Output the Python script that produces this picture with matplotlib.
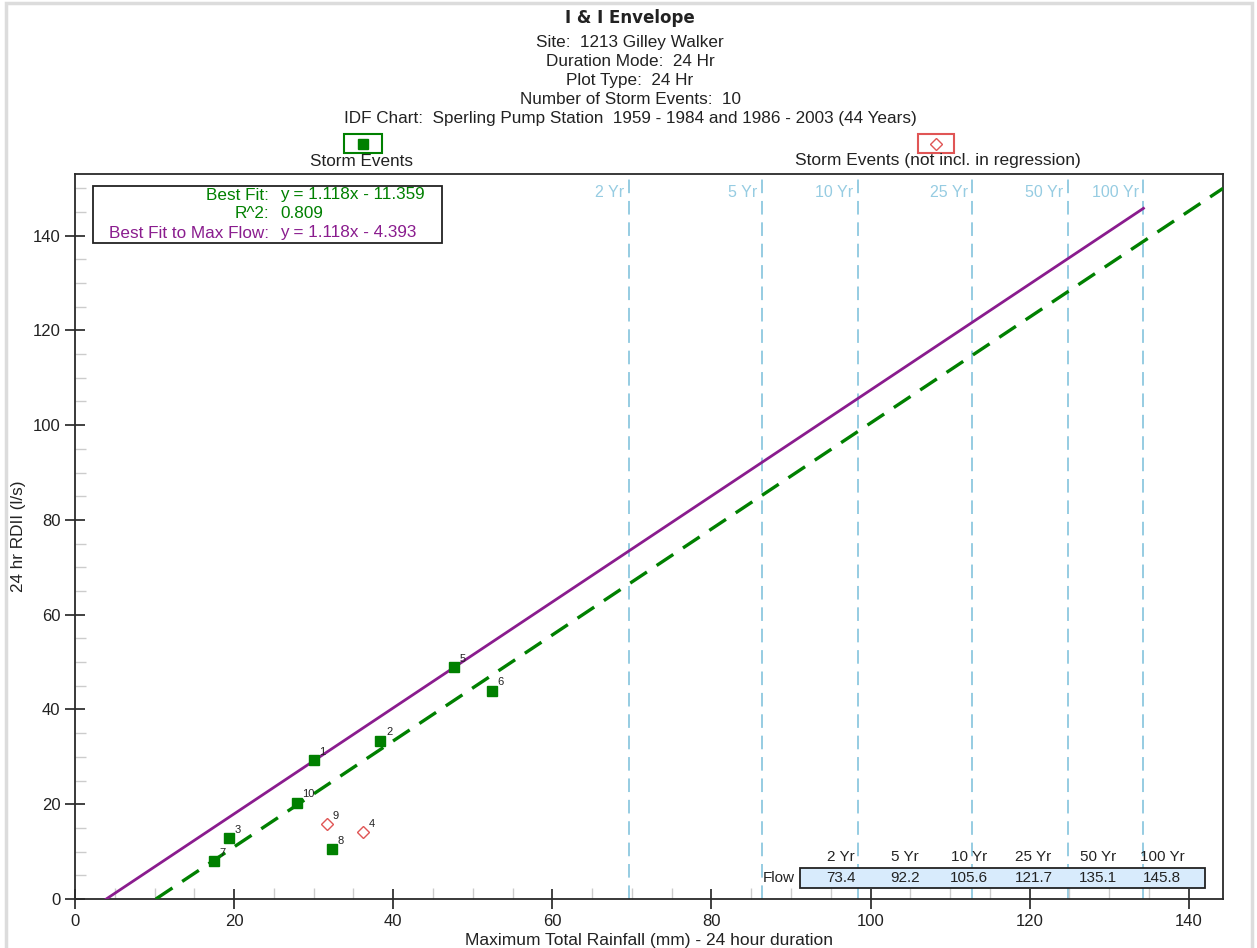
import matplotlib
matplotlib.use("Agg")
import matplotlib.pyplot as plt
from matplotlib.patches import Rectangle
from matplotlib.lines import Line2D
from matplotlib.ticker import MultipleLocator

plt.rcParams["font.family"] = ["Liberation Sans", "DejaVu Sans"]

# storm events included in regression
EVENT_ID = ["1", "2", "3", "5", "6", "7", "8", "10"]
EVENT_RAIN = [30.0, 38.4, 19.3, 47.6, 52.4, 17.5, 32.3, 27.9]
EVENT_RDII = [29.3, 33.4, 12.8, 48.9, 44.0, 8.0, 10.5, 20.3]

# storm events not included in regression
EXCL_ID = ["4", "9"]
EXCL_RAIN = [36.2, 31.7]
EXCL_RDII = [14.1, 15.8]

# regression lines
SLOPE = 1.118
INTERCEPT_FIT = -11.359
INTERCEPT_MAX = -4.393
R2 = 0.809

# IDF return periods
IDF_LABELS = ["2 Yr", "5 Yr", "10 Yr", "25 Yr", "50 Yr", "100 Yr"]
IDF_RAIN = [69.6, 86.4, 98.4, 112.8, 124.8, 134.3]
IDF_FLOW = [73.4, 92.2, 105.6, 121.7, 135.1, 145.8]

GREEN = "#008000"
PURPLE = "#8A1C8E"
RED = "#E05555"
IDF_BLUE = "#96CCE2"
TXT = "#222222"

XMAX, YMAX = 144.3, 153.0
W, H = 1257, 948

fig = plt.figure(figsize=(W / 100, H / 100), dpi=100)
ax = fig.add_axes([75 / W, 49 / H, 1148 / W, 725 / H])

# light frame around the whole picture
fig.add_artist(Rectangle((6 / W, -0.01), 1246 / W, 1.007,
                         transform=fig.transFigure, fill=False,
                         edgecolor="#dcdcdc", linewidth=2.5))

# IDF vertical lines
for lab, xr in zip(IDF_LABELS, IDF_RAIN):
    ax.axvline(xr, color=IDF_BLUE, linestyle=(0, (7, 4)), linewidth=1.4, zorder=1)
    ax.text(xr - 0.6, 0.975, lab, transform=ax.get_xaxis_transform(),
            ha="right", va="center", fontsize=11.5, color=IDF_BLUE)

# best fit to max flow (purple), from y=0 to the 100 yr line
x0 = -INTERCEPT_MAX / SLOPE
ax.plot([x0, IDF_RAIN[-1]], [0, SLOPE * IDF_RAIN[-1] + INTERCEPT_MAX],
        color=PURPLE, linewidth=2.0, zorder=3)

# best fit (green dashed), from y=0 to the right edge
x1 = -INTERCEPT_FIT / SLOPE
ax.plot([x1, XMAX], [0, SLOPE * XMAX + INTERCEPT_FIT],
        color=GREEN, linewidth=2.4, linestyle=(0, (6, 3.5)), zorder=3)

ax.plot(EVENT_RAIN, EVENT_RDII, linestyle="none", marker="s", markersize=7,
        color=GREEN, zorder=4)
ax.plot(EXCL_RAIN, EXCL_RDII, linestyle="none", marker="D", markersize=6,
        markerfacecolor="none", markeredgecolor=RED, markeredgewidth=1.0, zorder=4)

pts = list(zip(EVENT_ID, EVENT_RAIN, EVENT_RDII)) + list(zip(EXCL_ID, EXCL_RAIN, EXCL_RDII))
for lab, xv, yv in pts:
    ax.annotate(lab, (xv, yv), xytext=(4, 4), textcoords="offset points",
                fontsize=8, color=TXT, zorder=5)

ax.set_xlim(0, XMAX)
ax.set_ylim(0, YMAX)
ax.xaxis.set_major_locator(MultipleLocator(20))
ax.yaxis.set_major_locator(MultipleLocator(20))
ax.xaxis.set_minor_locator(MultipleLocator(5))
ax.yaxis.set_minor_locator(MultipleLocator(5))
ax.tick_params(which="major", direction="inout", length=15, width=1.3,
               color="#333333", labelsize=12, labelcolor=TXT, pad=3)
ax.tick_params(which="minor", direction="in", length=8, width=1.0, color="#cccccc")
for s in ax.spines.values():
    s.set_color("#2a2a2a")
    s.set_linewidth(1.3)

ax.set_xlabel("Maximum Total Rainfall (mm) - 24 hour duration", fontsize=12.5,
              color=TXT, labelpad=3)
ax.set_ylabel("24 hr RDII (l/s)", fontsize=12.3, color=TXT, labelpad=5)

# fit info box
ax.add_patch(Rectangle((18 / 1148, 1 - 69 / 725), 349 / 1148, 57 / 725,
                       transform=ax.transAxes, facecolor="white",
                       edgecolor="#222222", linewidth=1.3, zorder=6))
rows = [("Best Fit:", f"y = {SLOPE:.3f}x - {abs(INTERCEPT_FIT):.3f}", GREEN),
        ("R^2:", f"{R2:.3f}", GREEN),
        ("Best Fit to Max Flow:", f"y = {SLOPE:.3f}x - {abs(INTERCEPT_MAX):.3f}", PURPLE)]
for i, (lab, val, col) in enumerate(rows):
    yy = 1 - (21 + 19 * i) / 725
    ax.text(194 / 1148, yy, lab, transform=ax.transAxes, ha="right", va="center",
            fontsize=12.3, color=col, zorder=7)
    ax.text(205 / 1148, yy, val, transform=ax.transAxes, ha="left", va="center",
            fontsize=12.3, color=col, zorder=7)

# flow table
ax.add_patch(Rectangle((725 / 1148, 11 / 725), 405 / 1148, 20 / 725,
                       transform=ax.transAxes, facecolor="#D8EBFC",
                       edgecolor="#222222", linewidth=1.3, zorder=2))
ax.text(720 / 1148, 21 / 725, "Flow", transform=ax.transAxes, ha="right",
        va="center", fontsize=11, color=TXT, zorder=7)
for i, (lab, fl) in enumerate(zip(IDF_LABELS, IDF_FLOW)):
    xc = (766 + 64.2 * i) / 1148
    ax.text(xc, 42 / 725, lab, transform=ax.transAxes, ha="center",
            va="center", fontsize=11, color=TXT, zorder=7)
    ax.text(xc, 21 / 725, f"{fl:.1f}", transform=ax.transAxes, ha="center",
            va="center", fontsize=11, color=TXT, zorder=7)

# titles
cx = 630 / W
fig.text(cx, 1 - 18 / H, "I & I Envelope", ha="center", va="center",
         fontsize=12, fontweight="bold", family="DejaVu Sans", color=TXT)
subs = ["Site:  1213 Gilley Walker", "Duration Mode:  24 Hr", "Plot Type:  24 Hr",
        "Number of Storm Events:  10",
        "IDF Chart:  Sperling Pump Station  1959 - 1984 and 1986 - 2003 (44 Years)"]
for i, s in enumerate(subs):
    fig.text(cx, 1 - (42 + 19 * i) / H, s, ha="center", va="center",
             fontsize=12.3, color=TXT)

# legend above the plot
fig.add_artist(Rectangle((344 / W, 1 - 153 / H), 38 / W, 19 / H,
                         transform=fig.transFigure, fill=False,
                         edgecolor=GREEN, linewidth=1.5))
fig.add_artist(Line2D([363 / W], [1 - 143.5 / H], transform=fig.transFigure,
                      marker="s", markersize=7, color=GREEN, linestyle="none"))
fig.text(362 / W, 1 - 161 / H, "Storm Events", ha="center", va="center",
         fontsize=12.3, color=TXT)
fig.add_artist(Rectangle((918 / W, 1 - 153 / H), 36 / W, 19 / H,
                         transform=fig.transFigure, fill=False,
                         edgecolor=RED, linewidth=1.5))
fig.add_artist(Line2D([936 / W], [1 - 143.5 / H], transform=fig.transFigure,
                      marker="D", markersize=6, markerfacecolor="none",
                      markeredgecolor=RED, markeredgewidth=1.0, linestyle="none"))
fig.text(938 / W, 1 - 161 / H, "Storm Events (not incl. in regression)",
         ha="center", va="center", fontsize=12.5, color=TXT)

fig.savefig("out.png", dpi=100)
